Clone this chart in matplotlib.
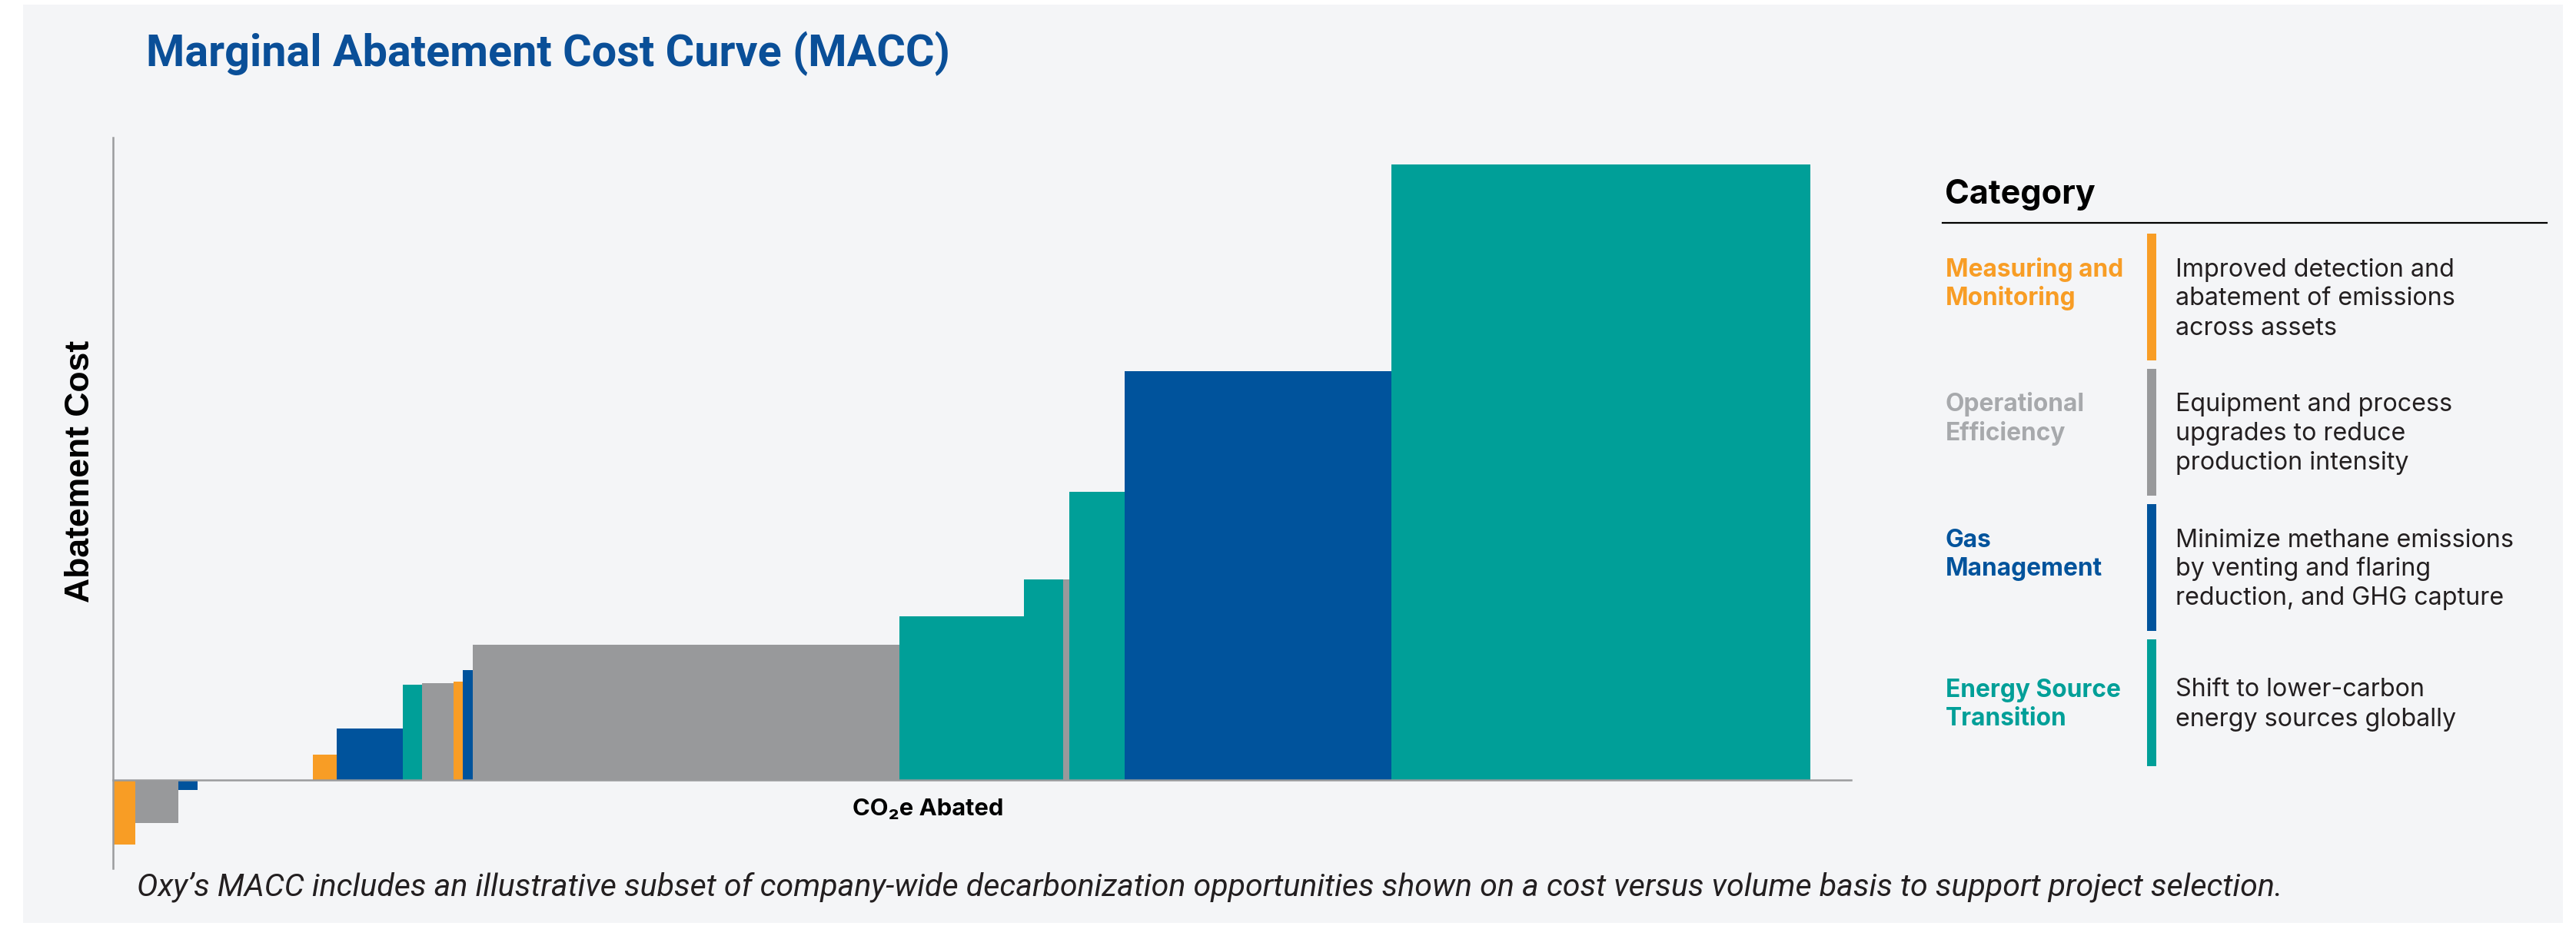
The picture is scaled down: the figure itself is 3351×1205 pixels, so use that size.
import matplotlib.pyplot as plt
from matplotlib.patches import Rectangle

W, H = 3351, 1205
DPI = 100

# MACC projects, left to right: abated volume (width) and cost (height)
volumes = [2.9, 5.6, 2.5, 15.0, 3.1, 8.6, 2.5, 4.1, 1.2, 1.3, 55.5, 16.2, 5.1, 0.8, 7.2, 34.7, 54.5]
costs = [-8.35, -5.55, -1.3, 0.0, 3.3, 6.7, 12.4, 12.6, 12.8, 14.3, 17.6, 21.3, 26.1, 26.1, 37.5, 53.2, 80.1]
project_cats = ["MM", "OE", "GM", None, "MM", "GM", "ET", "OE", "MM", "GM", "OE", "ET", "ET", "OE", "ET", "GM", "ET"]

cat_keys = ["MM", "OE", "GM", "ET"]
cat_names = ["Measuring and\nMonitoring", "Operational\nEfficiency", "Gas\nManagement", "Energy Source\nTransition"]
cat_desc = [
    "Improved detection and\nabatement of emissions\nacross assets",
    "Equipment and process\nupgrades to reduce\nproduction intensity",
    "Minimize methane emissions\nby venting and flaring\nreduction, and GHG capture",
    "Shift to lower-carbon\nenergy sources globally",
]
bar_colors = {"MM": "#F89D25", "OE": "#98999B", "GM": "#00539C", "ET": "#009F98"}
name_colors = {"MM": "#F89D25", "OE": "#A7A9AC", "GM": "#00539C", "ET": "#009F98"}

BG = "#F4F5F7"
AXIS = "#9A9B9D"
SANS = ["Inter", "DejaVu Sans"]


def fx(px):
    return px / W


def fy(py):
    return 1 - py / H


fig = plt.figure(figsize=(W / DPI, H / DPI), dpi=DPI, facecolor="white")
fig.patches.append(Rectangle((fx(30), fy(1201)), fx(3334) - fx(30), fy(6) - fy(1201),
                             transform=fig.transFigure, facecolor=BG, edgecolor="none", zorder=-5))

# main chart axes, spanned between the axis lines
ax_l, ax_r, ax_t, ax_b = 146.5, 2408, 179, 1130
ax = fig.add_axes([fx(ax_l), fy(ax_b), fx(ax_r) - fx(ax_l), fy(ax_t) - fy(ax_b)])
ax.set_facecolor("none")

lefts = []
x = 0.0
for v in volumes:
    lefts.append(x)
    x += v

draw = [i for i, c in enumerate(project_cats) if c is not None]
ax.bar([lefts[i] for i in draw], [costs[i] for i in draw], width=[volumes[i] for i in draw],
       align="edge", color=[bar_colors[project_cats[i]] for i in draw], linewidth=0, zorder=2)

ax.set_xlim(-0.05, 226.1)
ax.set_ylim(-11.5, 83.6)
for s in ["top", "right"]:
    ax.spines[s].set_visible(False)
ax.spines["left"].set_color(AXIS)
ax.spines["left"].set_linewidth(1.8)
ax.spines["bottom"].set_position(("data", 0))
ax.spines["bottom"].set_color(AXIS)
ax.spines["bottom"].set_linewidth(1.8)
ax.spines["bottom"].set_zorder(3)
ax.set_xticks([])
ax.set_yticks([])

fig.text(fx(105), fy(613), "Abatement Cost", rotation=90, ha="center", va="center",
         fontsize=32, fontweight="bold", family="Liberation Sans", color="black")
fig.text(fx(1207), fy(1061), "CO\u2082e Abated", ha="center", va="baseline",
         fontsize=22.3, fontweight="bold", family=SANS, color="black")

fig.text(fx(190), fy(86), "Marginal Abatement Cost Curve (MACC)", ha="left", va="baseline",
         fontsize=41.4, fontweight="bold", family="Roboto", color="#0A4F98")

fig.text(fx(178), fy(1166),
         "Oxy\u2019s MACC includes an illustrative subset of company-wide decarbonization "
         "opportunities shown on a cost versus volume basis to support project selection.",
         ha="left", va="baseline", fontsize=29.6, fontstyle="italic", family="Roboto", color="#231F20")

# category legend on the right
fig.text(fx(2530), fy(265), "Category", ha="left", va="baseline",
         fontsize=31, fontweight="bold", family=SANS, color="black")
fig.add_artist(plt.Line2D([fx(2527), fx(3313)], [fy(290), fy(290)], color="black", linewidth=1.6))

bar_top0, bar_h, bar_step = 304, 165, 176
line_gap, cap = 38, 22
for k, key in enumerate(cat_keys):
    top = bar_top0 + k * bar_step
    fig.patches.append(Rectangle((fx(2793), fy(top + bar_h)), fx(12), bar_h / H,
                                 transform=fig.transFigure, facecolor=bar_colors[key], edgecolor="none"))
    lines = cat_desc[k].split("\n")
    block = cap + (len(lines) - 1) * line_gap
    base = top + (bar_h - block) / 2 + cap
    for i, ln in enumerate(lines):
        fig.text(fx(2830), fy(base + i * line_gap), ln, ha="left", va="baseline",
                 fontsize=23.2, family=SANS, color="#231F20")
    for i, ln in enumerate(cat_names[k].split("\n")):
        fig.text(fx(2531), fy(base + i * line_gap), ln, ha="left", va="baseline",
                 fontsize=22.8, fontweight="bold", family=SANS, color=name_colors[key])

fig.savefig("out.png", dpi=DPI, facecolor=fig.get_facecolor())
